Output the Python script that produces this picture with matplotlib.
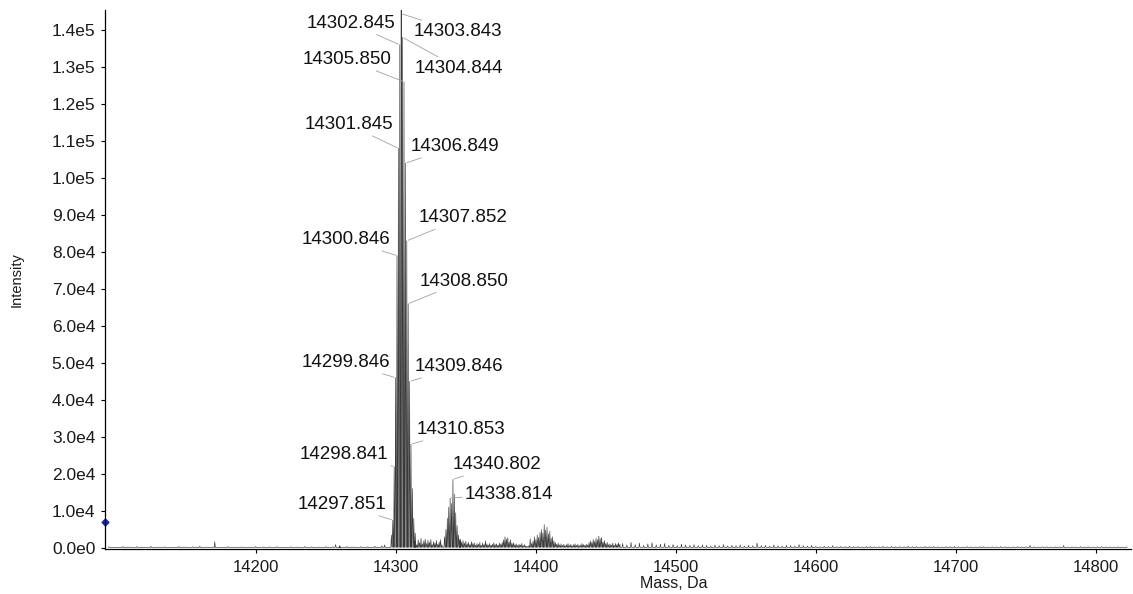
import numpy as np
import matplotlib
matplotlib.use("Agg")
import matplotlib.pyplot as plt
from matplotlib.ticker import FuncFormatter, MultipleLocator, FixedLocator

plt.rcParams["font.family"] = ["Liberation Sans", "DejaVu Sans"]

# main isotope cluster (mass, intensity)
main_mass = [14296.85, 14297.851, 14298.841, 14299.846, 14300.846, 14301.845,
             14302.845, 14303.843, 14304.844, 14305.850, 14306.849, 14307.852,
             14308.850, 14309.846, 14310.853, 14311.85, 14312.85, 14313.85]
main_int = [3500, 7500, 22000, 46000, 79000, 108000, 136000, 152000, 138000,
            126000, 104000, 83000, 66000, 45000, 28000, 16000, 8000, 4000]

# adduct cluster around 14340
add_mass = [14334.8, 14335.8, 14336.8, 14337.8, 14338.814, 14339.8, 14340.802,
            14341.8, 14342.8, 14343.8, 14344.8, 14345.8]
add_int = [3000, 5000, 8000, 11000, 13500, 12000, 18500, 14500, 9500, 6000,
           3500, 2200]

# isolated spikes in the low-mass baseline
spike_mass = [14170.7, 14257.0, 14260.0, 14292.0]
spike_int = [1700, 900, 600, 800]

# baseline noise, low-mass side: 14095..14290 every 5 Da
noise_a_start, noise_a_step = 14095, 5
noise_a = [300, 200, 400, 250, 350, 200, 450, 250, 300, 200, 400, 250, 300, 500,
           250, 300, 200, 350, 250, 300, 200, 400, 250, 300, 350, 200, 300, 250,
           400, 300, 250, 350, 300, 250, 400, 300, 350, 300, 450, 600]

# noise just after the main cluster: 14314..14333 every 1 Da
noise_b_start, noise_b_step = 14314, 1
noise_b = [1800, 900, 2200, 1400, 2600, 1100, 1900, 2400, 1200, 2100, 1500,
           2300, 900, 1700, 1300, 2000, 1000, 1600, 2200, 800]

# 14346..14460 every 1 Da
noise_c_start, noise_c_step = 14346, 1
noise_c = [2400, 1600, 2000, 1300, 1800, 1100, 1500, 900, 1700, 1200,
           1400, 800, 1200, 1000, 1500, 700, 1300, 900, 1900, 1100,
           800, 1200, 700, 1000, 1400, 900, 1100, 700, 1300, 1000,
           1500, 2200, 3000, 2400, 2800, 1600, 2200, 1200, 1400, 900,
           1100, 700, 1000, 800, 1200, 600, 900, 500, 400, 600,
           2500, 1200, 1800, 3000, 2200, 3500, 2800, 4200, 5000, 4000,
           6300, 4800, 5600, 3800, 4500, 2600, 3000, 1800, 1400, 1000,
           1300, 800, 1100, 700, 1000, 600, 900, 1200, 700, 1000,
           600, 900, 1100, 700, 1000, 600, 800, 1200, 900, 700,
           1000, 800, 1400, 1900, 1500, 2300, 1800, 2600, 2200, 3200,
           2500, 2800, 1600, 2000, 1200, 1500, 900, 1100, 800, 1300,
           700, 1200, 900, 1400, 1000]

# high-mass tail: 14462..14822 every 3 Da
noise_d_start, noise_d_step = 14462, 3
noise_d = [1200, 800, 1500, 900, 1300, 700, 1100, 1400, 800, 1000,
           1200, 700, 900, 600, 1000, 800, 700, 900, 600, 800,
           700, 500, 800, 600, 900, 500, 700, 600, 800, 500, 700, 600, 1300,
           600, 700, 500, 800, 600, 500, 700, 600, 500, 900, 600, 500, 700,
           400, 300, 450, 350, 600, 300, 400, 350, 450, 300, 400, 250, 350, 400, 300,
           350, 450, 300, 400, 250, 350, 300, 450, 300, 350, 250, 400, 300, 350, 300,
           250, 350, 300, 400, 300, 250, 350, 300, 250, 300, 350, 250, 300, 250, 350,
           300, 250, 300, 350, 250, 300, 700, 300, 250, 300, 350, 250, 300, 250, 650,
           250, 300, 250, 350, 250, 300, 250, 300, 350, 250, 300, 250, 300, 250, 300]

labeled = [14302.845, 14303.843, 14305.850, 14304.844, 14301.845, 14306.849,
           14307.852, 14300.846, 14308.850, 14299.846, 14309.846, 14310.853,
           14298.841, 14340.802, 14338.814, 14297.851]

x_ticks = [14200, 14300, 14400, 14500, 14600, 14700, 14800]

# label placement (layout): text anchor in data coords and side
label_pos = {
    14302.845: (14299.4, 141800, "right"),
    14303.843: (14312.5, 139600, "left"),
    14305.850: (14297.1, 132000, "right"),
    14304.844: (14313.2, 129700, "left"),
    14301.845: (14298.2, 114400, "right"),
    14306.849: (14310.9, 108500, "left"),
    14307.852: (14316.1, 89200, "left"),
    14300.846: (14295.9, 83300, "right"),
    14308.850: (14316.8, 72100, "left"),
    14299.846: (14295.9, 50100, "right"),
    14309.846: (14313.7, 49000, "left"),
    14310.853: (14314.9, 32000, "left"),
    14298.841: (14294.6, 25200, "right"),
    14340.802: (14340.6, 22500, "left"),
    14338.814: (14349.4, 14400, "left"),
    14297.851: (14293.5, 11700, "right"),
}

baseline = 150
ymax = 145400

# collect sticks
sticks = list(zip(main_mass, main_int)) + list(zip(add_mass, add_int)) \
    + list(zip(spike_mass, spike_int))
for start, step, vals in [(noise_a_start, noise_a_step, noise_a),
                          (noise_b_start, noise_b_step, noise_b),
                          (noise_c_start, noise_c_step, noise_c),
                          (noise_d_start, noise_d_step, noise_d)]:
    sticks += [(start + i * step, v) for i, v in enumerate(vals)]
sticks.sort()

xs, ys = [], []
for m, h in sticks:
    xs += [m - 0.4, m, m + 0.4]
    ys += [baseline, h, baseline]

fig = plt.figure(figsize=(11.33, 5.94), dpi=100)
ax = fig.add_axes([105 / 1133, 1 - 549 / 594, 1026 / 1133, 539 / 594])

ax.plot(xs, ys, color="#3a3a3a", lw=0.45)

ax.set_xlim(14092.3, 14825.1)
ax.set_ylim(-300, ymax)

heights = dict(sticks)
for m in labeled:
    tx, ty, side = label_pos[m]
    target_y = min(heights[m], ymax - 1000)
    ax.annotate(f"{m:.3f}", xy=(m, target_y), xytext=(tx, ty),
                ha=side, va="center", fontsize=13.5, color="#111111",
                annotation_clip=False,
                arrowprops=dict(arrowstyle="-", color="#a0a0a0", lw=0.6,
                                shrinkA=0, shrinkB=1))

# threshold marker on the y axis
ax.plot([0.0], [7100], marker="D", ms=3.5, color="#1c2a9c",
        transform=ax.get_yaxis_transform(), clip_on=False)


def sci(v, pos):
    if v == 0:
        return "0.0e0"
    e = int(np.floor(np.log10(abs(v)) + 1e-9))
    return f"{v / 10 ** e:.1f}e{e}"


ax.yaxis.set_major_locator(MultipleLocator(10000))
ax.yaxis.set_major_formatter(FuncFormatter(sci))
ax.xaxis.set_major_locator(FixedLocator(x_ticks))

for s in ["top", "right"]:
    ax.spines[s].set_visible(False)
for s in ["left", "bottom"]:
    ax.spines[s].set_linewidth(0.9)

ax.tick_params(axis="y", labelsize=12.5, length=3, width=0.8, pad=4,
               labelcolor="#1a1a1a")
ax.tick_params(axis="x", labelsize=12, length=3, width=0.8, pad=5,
               labelcolor="#1a1a1a")

ax.set_xlabel("Mass, Da", fontsize=11.5, color="#1a1a1a")
ax.xaxis.set_label_coords(0.5546, -0.050)
ax.set_ylabel("Intensity", fontsize=10.5, color="#1a1a1a")
ax.yaxis.set_label_coords(-0.079, 0.5)

fig.savefig("out.png", dpi=100)
